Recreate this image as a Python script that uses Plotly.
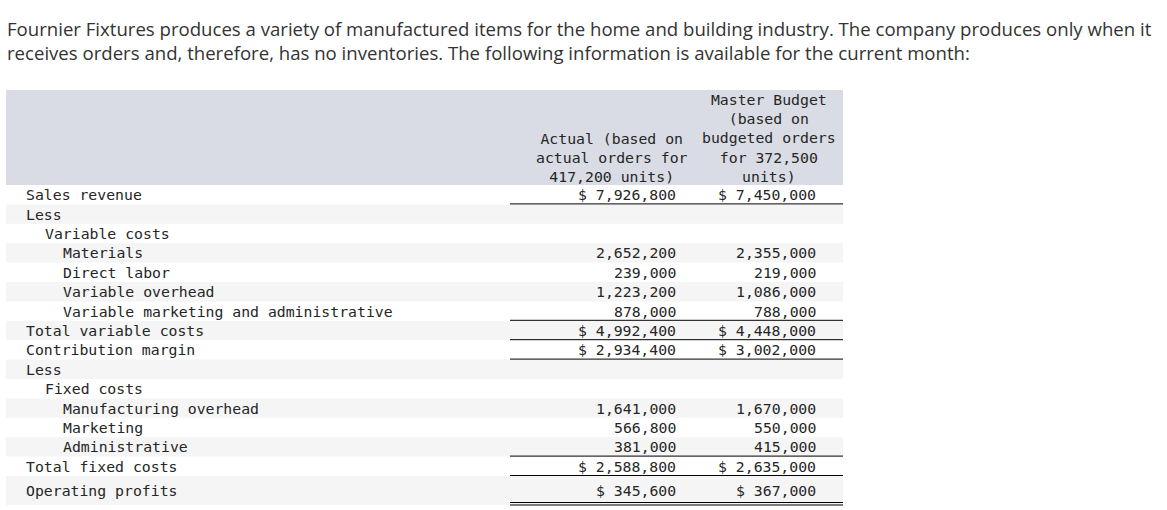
import plotly.graph_objects as go

# ---- data ----
intro_lines = [
    "Fournier Fixtures produces a variety of manufactured items for the home and building industry. The company produces only when it",
    "receives orders and, therefore, has no inventories. The following information is available for the current month:",
]
col_headers = [
    "Actual (based on<br>actual orders for<br>417,200 units)",
    "Master Budget<br>(based on<br>budgeted orders<br>for 372,500<br>units)",
]
labels = [
    "Sales revenue", "Less", "Variable costs", "Materials", "Direct labor",
    "Variable overhead", "Variable marketing and administrative",
    "Total variable costs", "Contribution margin", "Less", "Fixed costs",
    "Manufacturing overhead", "Marketing", "Administrative",
    "Total fixed costs", "Operating profits",
]
indent = [0, 0, 1, 2, 2, 2, 2, 0, 0, 0, 1, 2, 2, 2, 0, 0]
actual = [7926800, None, None, 2652200, 239000, 1223200, 878000,
          4992400, 2934400, None, None, 1641000, 566800, 381000,
          2588800, 345600]
budget = [7450000, None, None, 2355000, 219000, 1086000, 788000,
          4448000, 3002000, None, None, 1670000, 550000, 415000,
          2635000, 367000]
dollar = [True, False, False, False, False, False, False,
          True, True, False, False, False, False, False, True, True]
underline = [1, 0, 0, 0, 0, 0, 1, 1, 1, 0, 0, 0, 0, 1, 1, 2]  # 1 single, 2 double

# ---- layout constants ----
W, H = 1167, 510
TBL_L, TBL_R = 6, 843
HDR_TOP, HDR_BOT = 90, 185
ROW_H = 19.4
LAST_H = 29
LABEL_X0 = 25
INDENT_W = 18.5
COL_RIGHT = [677, 817]
COL_CENTER = [612, 769]
LINE_L = 510
MONO = "DejaVu Sans Mono"
TXT = "#262626"
FS = 14.8

fig = go.Figure()
shapes = []
ann = []

# intro text
for i, t in enumerate(intro_lines):
    ann.append(dict(x=5, y=28 + i * 24, text=t, xanchor="left", yanchor="middle",
                    showarrow=False, font=dict(family="Open Sans", size=18.6, color="#333333")))

# header band
shapes.append(dict(type="rect", x0=TBL_L, x1=TBL_R, y0=HDR_TOP, y1=HDR_BOT,
                   fillcolor="#d9dce4", line=dict(width=0), layer="below"))
for j, h in enumerate(col_headers):
    ann.append(dict(x=COL_CENTER[j], y=HDR_BOT + 2, text=h, xanchor="center",
                    yanchor="bottom", align="center", showarrow=False,
                    font=dict(family=MONO, size=FS, color=TXT)))

def fmt(v, d):
    if v is None:
        return ""
    s = f"{v:,}"
    return ("$ " + s) if d else s

n = len(labels)
for i in range(n):
    top = HDR_BOT + i * ROW_H
    bot = top + (LAST_H if i == n - 1 else ROW_H)
    mid = (top + bot) / 2
    if i % 2 == 1:
        shapes.append(dict(type="rect", x0=TBL_L, x1=TBL_R, y0=top, y1=bot,
                           fillcolor="#f5f5f5", line=dict(width=0), layer="below"))
    ann.append(dict(x=LABEL_X0 + indent[i] * INDENT_W - 1, y=mid, text=labels[i],
                    xanchor="left", yanchor="middle", showarrow=False,
                    font=dict(family=MONO, size=FS, color=TXT)))
    for j, vals in enumerate([actual, budget]):
        s = fmt(vals[i], dollar[i])
        if s:
            ann.append(dict(x=COL_RIGHT[j] + 1, y=mid, text=s, xanchor="right",
                            yanchor="middle", showarrow=False,
                            font=dict(family=MONO, size=FS, color=TXT)))
    if underline[i] == 1:
        shapes.append(dict(type="line", x0=LINE_L, x1=TBL_R, y0=bot - 0.5, y1=bot - 0.5,
                           line=dict(color="#000000", width=1)))
    elif underline[i] == 2:
        for yy in (bot - 2.5, bot):
            shapes.append(dict(type="line", x0=LINE_L, x1=TBL_R, y0=yy, y1=yy,
                               line=dict(color="#000000", width=1)))

fig.update_layout(
    width=W, height=H, margin=dict(l=0, r=0, t=0, b=0),
    paper_bgcolor="white", plot_bgcolor="white",
    xaxis=dict(range=[0, W], visible=False, fixedrange=True),
    yaxis=dict(range=[H, 0], visible=False, fixedrange=True),
    shapes=shapes, annotations=ann, showlegend=False,
)
fig.write_html(
    "out.html",
    config={"displayModeBar": False},
    post_script="document.body.style.margin='0';document.body.style.overflow='hidden';",
)
